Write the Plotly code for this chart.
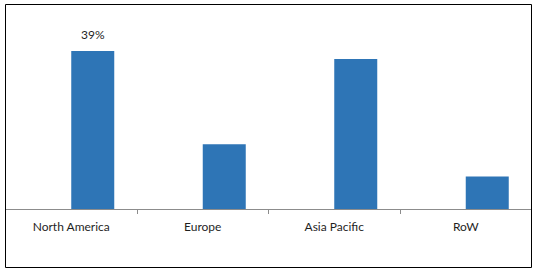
import plotly.graph_objects as go

categories = ["North America", "Europe", "Asia Pacific", "RoW"]
placeholder_series = [None, None, None, None]
share_values = [39, 16, 37, 8]
label_texts = ["39%", "", "", ""]

W, H = 538, 272
fig = go.Figure()
fig.add_trace(go.Bar(x=categories, y=placeholder_series, marker_color="#2E75B6", showlegend=False))
fig.add_trace(go.Bar(x=categories, y=share_values, marker_color="#2E75B6", marker_line_width=0,
                     showlegend=False))

for cat, txt, val in zip(categories, label_texts, share_values):
    if txt:
        fig.add_annotation(x=cat, y=val, text=txt, showarrow=False, xref="x", yref="y",
                           xshift=22, yshift=7, yanchor="bottom",
                           font=dict(family="Lato", size=12, color="#1F1F1F"))

fig.add_shape(type="rect", xref="paper", yref="paper",
              x0=5.5 / W, x1=531.5 / W, y0=(H - 267.5) / H, y1=(H - 4.5) / H,
              line=dict(color="#000000", width=1), fillcolor="rgba(0,0,0,0)", layer="above")

fig.update_layout(
    width=W, height=H,
    margin=dict(l=0, r=0, t=0, b=0),
    paper_bgcolor="white", plot_bgcolor="white",
    barmode="group", bargap=0.346, bargroupgap=0,
    font=dict(family="Lato", size=12, color="#1F1F1F"),
    xaxis=dict(domain=[5.5 / W, 531.5 / W], type="category", showline=True, linecolor="#8C8C8C",
               linewidth=1, ticks="outside", tickson="boundaries", ticklen=4, tickcolor="#8C8C8C",
               showgrid=False, zeroline=False, ticklabelstandoff=7,
               tickfont=dict(family="Lato", size=12, color="#1F1F1F")),
    yaxis=dict(domain=[(H - 209) / H, (H - 26.7) / H], range=[0, 45], visible=False,
               showgrid=False, zeroline=False),
)

fig.write_html("out.html")
